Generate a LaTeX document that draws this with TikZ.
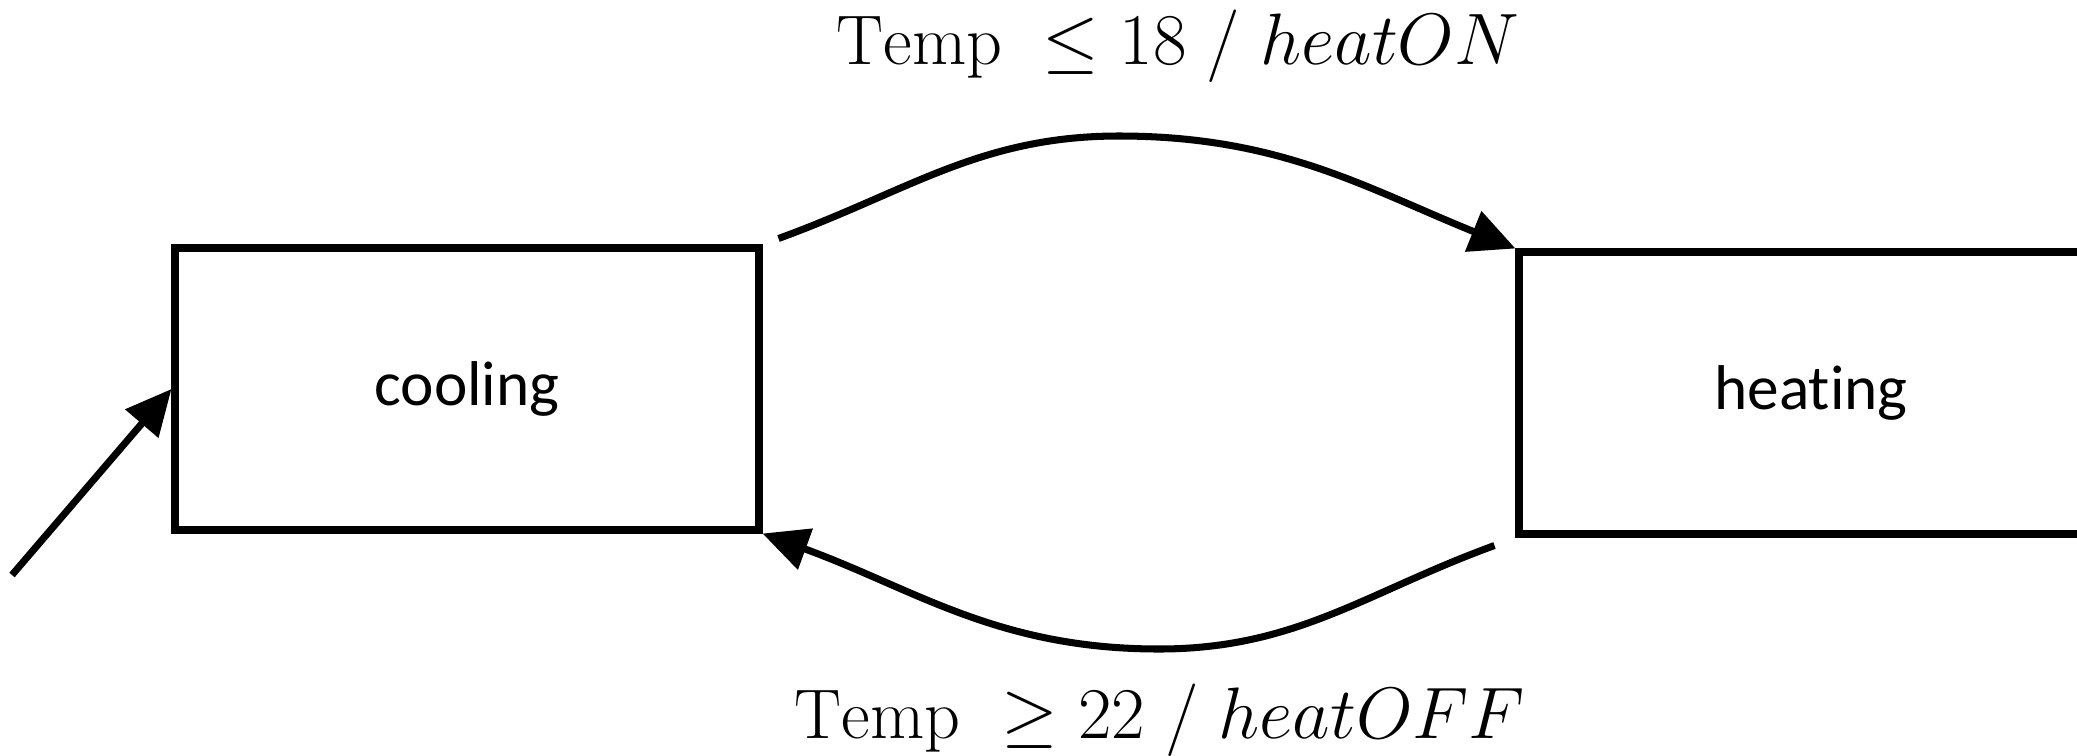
\documentclass[tikz,border=0pt]{standalone}
\usepackage{amsmath,amssymb}
\usepackage{fontspec}
\setsansfont{Carlito}[Ligatures={NoCommon,NoRequired,NoContextual}]
\usetikzlibrary{arrows.meta,calc,positioning}

\begin{document}
\begin{tikzpicture}[
        stato/.style={draw, line width=2pt, minimum width=5.84cm, minimum height=2.82cm,
            font=\sffamily\fontsize{18}{22}\selectfont},
        transizione/.style={line width=2pt, -{Triangle[length=13pt,width=12pt]}},
        etichetta/.style={font=\fontsize{20}{24}\selectfont, anchor=base, inner sep=0pt}
    ]
            \useasboundingbox (0,0) rectangle (20.77,7.55);
            \clip (0,0) rectangle (20.77,7.55);

            % Stati (rettangoli, tratto spesso)
            \node[stato] (cooling) at (4.67,3.66) {cooling};
            \node[stato] (heating) at (18.11,3.62) {heating};

            % Freccia iniziale
            \coordinate (inizio) at (0.12,1.80);
            \draw[transizione] (inizio) -- (cooling.west);

            % Transizione cooling -> heating (arco superiore)
            \coordinate (uscitaC) at ($(cooling.north east)+(0.16,0.06)$);
            \coordinate (cima) at (11.19,6.19);
            \draw[transizione] (uscitaC) to[out=20,in=180] (cima) to[out=0,in=158] (heating.north west);

            % Transizione heating -> cooling (arco inferiore)
            \coordinate (uscitaH) at ($(heating.south west)+(-0.21,-0.08)$);
            \coordinate (fondo) at (11.59,1.06);
            \draw[transizione] (uscitaH) to[out=200,in=0] (fondo) to[out=180,in=-20] (cooling.south east);

            % Etichette delle transizioni
            \node[etichetta] (guardiaON) at (11.78,6.91) {$\mathrm{Temp}\;\leq 18\;/\;heatON$};
            \node[etichetta] (guardiaOFF) at (11.60,0.17) {$\mathrm{Temp}\;\geq 22\;/\;heatOFF$};
        \end{tikzpicture}
\end{document}
